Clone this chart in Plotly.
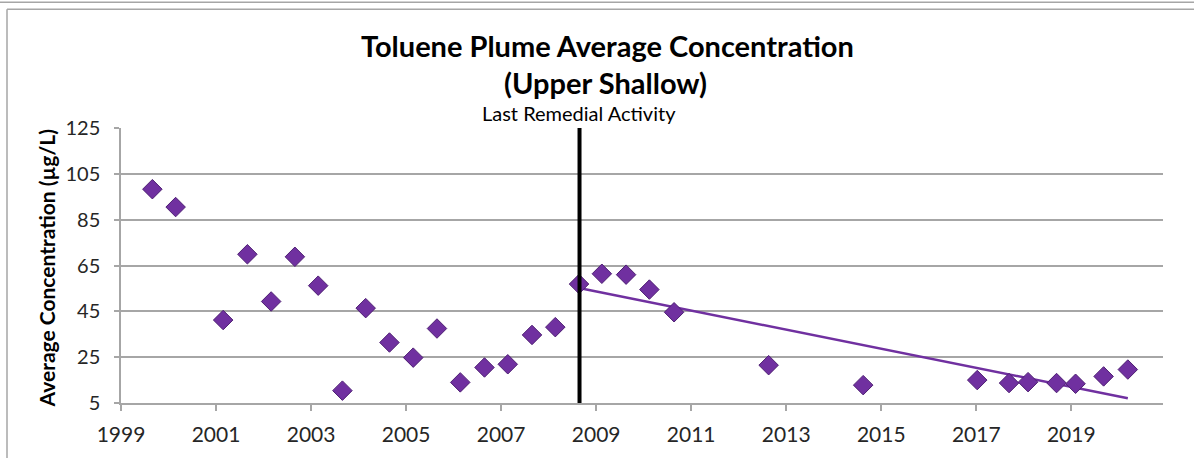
import numpy as np
import plotly.graph_objects as go

# Sampling dates (decimal years) and average toluene concentration (ug/L)
sample_dates = [
    1999.66, 2000.15, 2001.15, 2001.66, 2002.16, 2002.66, 2003.15, 2003.66,
    2004.15, 2004.65, 2005.15, 2005.65, 2006.14, 2006.65, 2007.14, 2007.65,
    2008.14, 2008.64, 2009.12, 2009.63, 2010.12, 2010.64, 2012.63, 2014.62,
    2017.02, 2017.69, 2018.09, 2018.69, 2019.09, 2019.68, 2020.19,
]
avg_concentration = [
    98.3, 90.5, 41.2, 69.9, 49.3, 68.8, 56.2, 10.4,
    46.4, 31.4, 24.8, 37.5, 14.0, 20.5, 21.9, 34.7,
    38.1, 56.9, 61.4, 61.0, 54.5, 44.6, 21.5, 12.8,
    15.0, 13.7, 14.1, 13.7, 13.4, 16.6, 19.6,
]

# Date of the last remedial activity
remedial_date = 2008.65

x_tick_years = [1999, 2001, 2003, 2005, 2007, 2009, 2011, 2013, 2015, 2017, 2019]
y_tick_values = [5, 25, 45, 65, 85, 105, 125]

purple = "#7030A0"
font_family = "Lato, 'Open Sans', sans-serif"

x = np.array(sample_dates)
y = np.array(avg_concentration)

# Linear trend fitted to samples collected after the last remedial activity
post = x >= remedial_date - 0.05
slope, intercept = np.polyfit(x[post], y[post], 1)
trend_x = np.array([x[post].min(), x[post].max()])
trend_y = slope * trend_x + intercept

fig = go.Figure()

fig.add_trace(go.Scatter(
    x=trend_x, y=trend_y, mode="lines",
    line=dict(color=purple, width=2.5),
    hoverinfo="skip", showlegend=False,
))

fig.add_trace(go.Scatter(
    x=x, y=y, mode="markers",
    marker=dict(symbol="diamond", size=15, color=purple,
                line=dict(color="#4E1F73", width=1)),
    showlegend=False,
))

# Vertical marker for the last remedial activity
fig.add_shape(type="line", xref="x", yref="y",
              x0=remedial_date, x1=remedial_date, y0=5, y1=125,
              line=dict(color="black", width=4), layer="above")

W, H = 1194, 458
left, right, top, bottom = 121, 1163, 128, 406
pw, ph = right - left, bottom - top


def px_x(p):
    return (p - left) / pw


def px_y(p):
    return (bottom - p) / ph


annotations = [
    dict(text="<b>Toluene Plume Average Concentration</b>", x=px_x(607), y=px_y(45),
         font=dict(size=29, color="black", family=font_family)),
    dict(text="<b>(Upper Shallow)</b>", x=px_x(605), y=px_y(82),
         font=dict(size=29, color="black", family=font_family)),
    dict(text="Last Remedial Activity", x=px_x(579), y=px_y(113),
         font=dict(size=20, color="black", family=font_family)),
    dict(text="<b>Average Concentration (µg/L)</b>", x=px_x(46), y=px_y(270),
         textangle=-90, font=dict(size=21, color="black", family=font_family)),
]
for a in annotations:
    a.update(xref="paper", yref="paper", showarrow=False,
             xanchor="center", yanchor="middle")

# Chart frame borders
frame = [
    dict(x0=px_x(0), x1=px_x(W), y0=px_y(1), y1=px_y(1)),
    dict(x0=px_x(7), x1=px_x(W + 5), y0=px_y(8), y1=px_y(8)),
    dict(x0=px_x(7), x1=px_x(7), y0=px_y(8), y1=px_y(H + 5)),
]
for s in frame:
    fig.add_shape(type="line", xref="paper", yref="paper",
                  line=dict(color="#A6A6A6", width=1.5), **s)

fig.update_layout(
    width=W, height=H,
    margin=dict(l=left, r=W - right, t=top, b=H - bottom),
    paper_bgcolor="white", plot_bgcolor="white",
    annotations=annotations,
    font=dict(family=font_family, size=21, color="#262626"),
)

fig.update_xaxes(
    range=[1999, 2020.93], tickvals=x_tick_years,
    ticktext=[str(v) for v in x_tick_years],
    showgrid=False, zeroline=False,
    showline=True, linecolor="#A6A6A6", linewidth=1.5,
    ticks="outside", ticklen=6, tickcolor="#A6A6A6", tickwidth=1.5,
    ticklabelstandoff=6,
    tickfont=dict(size=21, color="#262626"),
)
fig.update_yaxes(
    range=[5, 125], tickvals=y_tick_values,
    showgrid=True, gridcolor="#A6A6A6", gridwidth=1.5,
    zeroline=False,
    showline=True, linecolor="#A6A6A6", linewidth=1.5,
    ticks="outside", ticklen=5, tickcolor="#A6A6A6", tickwidth=1.5,
    ticklabelstandoff=10,
    tickfont=dict(size=20, color="#262626"),
)

fig.write_html("out.html")
